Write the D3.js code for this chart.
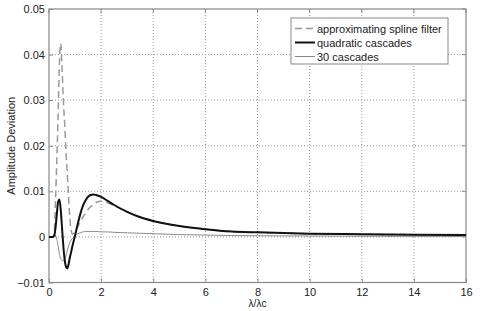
<!DOCTYPE html>
<html>
<head>
<meta charset="utf-8">
<script src="https://cdn.jsdelivr.net/npm/d3@7"></script>
<style>
body { margin: 0; background: #fff; }
text { font-family: Arial, "Liberation Sans", sans-serif; }
</style>
</head>
<body>
<div class="vis"></div>
<script>
// wavelength ratio samples (λ/λc)
const xs = [0, 0.1, 0.15, 0.2, 0.25, 0.3, 0.35, 0.4, 0.45, 0.5, 0.55, 0.6, 0.65, 0.7, 0.75, 0.8, 0.85, 0.9, 1.0,
    1.1, 1.2, 1.3, 1.4, 1.5, 1.6, 1.7, 1.8, 2.0, 2.25, 2.5, 3, 3.5, 4, 5, 6, 7, 8, 10, 12, 14, 16];

const splineFilter = [0, 0, 0, 0.001, 0.008, 0.017, 0.027, 0.038, 0.0425, 0.037, 0.030, 0.025, 0.019, 0.014, 0.009, 0.004, 0.0015, 0.0006, 0.0012,
    0.0022, 0.0033, 0.0043, 0.0052, 0.006, 0.0066, 0.0071, 0.0075, 0.0078, 0.0075, 0.0068, 0.0055, 0.0044, 0.0035, 0.0024, 0.0017, 0.0012, 0.001, 0.0007, 0.0006, 0.0005, 0.0004];

const quadratic = [0, 0, 0, 0.0002, 0.002, 0.005, 0.0077, 0.0082, 0.006, 0.002, -0.002, -0.005, -0.0065, -0.0069, -0.006, -0.0045, -0.0033, -0.002, 0.0003,
    0.0028, 0.005, 0.0068, 0.008, 0.0088, 0.0092, 0.0093, 0.0092, 0.0088, 0.0079, 0.007, 0.0055, 0.0043, 0.0035, 0.0024, 0.0017, 0.0012, 0.001, 0.0007, 0.0006, 0.0005, 0.0004];

const cascades30 = [0, 0, 0.0003, 0.0005, 0.0003, -0.0005, -0.002, -0.0038, -0.0048, -0.0051, -0.0052, -0.005, -0.0042, -0.003, -0.002, -0.0012, -0.0007, -0.0003, 0.0003,
    0.0007, 0.0009, 0.0011, 0.0012, 0.0012, 0.0012, 0.0012, 0.0012, 0.0011, 0.0011, 0.001, 0.0009, 0.0008, 0.0007, 0.0005, 0.0004, 0.0003, 0.00025, 0.0002, 0.00015, 0.00012, 0.0001];

const xTicks = [0, 2, 4, 6, 8, 10, 12, 14, 16];
const yTicks = [-0.01, 0, 0.01, 0.02, 0.03, 0.04, 0.05];
const legendLabels = ["approximating spline filter", "quadratic cascades", "30 cascades"];

const width = 480, height = 311;
const margin = { top: 9, right: 14, bottom: 28.5, left: 49 };
const w = width - margin.left - margin.right;
const h = height - margin.top - margin.bottom;

const svg = d3.select('.vis').append('svg')
    .attr('width', width).attr('height', height);
const g = svg.append('g')
    .attr('transform', 'translate(' + margin.left + ',' + margin.top + ')');

const x = d3.scaleLinear().domain([0, 16]).range([0, w]);
const y = d3.scaleLinear().domain([-0.01, 0.05]).range([h, 0]);

// grid
g.append('g').selectAll('line').data(xTicks.slice(1, -1)).join('line')
    .attr('x1', d => x(d)).attr('x2', d => x(d)).attr('y1', 0).attr('y2', h)
    .attr('stroke', '#999').attr('stroke-dasharray', '1,2');
g.append('g').selectAll('line').data(yTicks.slice(1, -1)).join('line')
    .attr('y1', d => y(d)).attr('y2', d => y(d)).attr('x1', 0).attr('x2', w)
    .attr('stroke', '#999').attr('stroke-dasharray', '1,2');

// axes (matlab style, ticks inside)
const xAxis = g.append('g').attr('transform', 'translate(0,' + h + ')')
    .call(d3.axisBottom(x).tickValues(xTicks).tickFormat(d3.format('d')).tickSizeInner(-4).tickSizeOuter(0).tickPadding(6));
const yAxis = g.append('g')
    .call(d3.axisLeft(y).tickValues(yTicks).tickFormat(d => d === 0 ? '0' : d3.format('.2f')(d)).tickSizeInner(-4).tickSizeOuter(0).tickPadding(4));
[xAxis, yAxis].forEach(a => {
    a.select('.domain').remove();
    a.selectAll('line').attr('stroke', '#888');
    a.selectAll('text').attr('fill', '#222').style('font-size', '11px');
});
// top / right ticks
g.append('g').selectAll('line').data(xTicks).join('line')
    .attr('x1', d => x(d)).attr('x2', d => x(d)).attr('y1', 0).attr('y2', 4).attr('stroke', '#888');
g.append('g').selectAll('line').data(yTicks).join('line')
    .attr('y1', d => y(d)).attr('y2', d => y(d)).attr('x1', w).attr('x2', w - 4).attr('stroke', '#888');

g.append('rect').attr('width', w).attr('height', h)
    .attr('fill', 'none').attr('stroke', '#888').attr('stroke-width', 1.2);

// curves
const line = vals => d3.line()
    .x((d, i) => x(xs[i]))
    .y(d => y(d))
    .curve(d3.curveMonotoneX)(vals);

g.append('path').attr('d', line(cascades30))
    .attr('fill', 'none').attr('stroke', '#8a8a8a').attr('stroke-width', 1);
g.append('path').attr('d', line(splineFilter))
    .attr('fill', 'none').attr('stroke', '#9a9a9a').attr('stroke-width', 1.5)
    .attr('stroke-dasharray', '7,4');
g.append('path').attr('d', line(quadratic))
    .attr('fill', 'none').attr('stroke', '#111').attr('stroke-width', 2);

// labels
svg.append('text')
    .attr('transform', 'translate(15,' + (margin.top + h / 2) + ') rotate(-90)')
    .attr('text-anchor', 'middle').attr('fill', '#222').style('font-size', '11px')
    .text('Amplitude Deviation');
svg.append('text')
    .attr('x', margin.left + w / 2).attr('y', 307)
    .attr('text-anchor', 'middle').attr('fill', '#222').style('font-size', '10px')
    .text('λ/λc');

// legend
const leg = svg.append('g').attr('transform', 'translate(291,18)');
leg.append('rect').attr('width', 157).attr('height', 46)
    .attr('fill', '#fff').attr('stroke', '#888');
const styles = [
    { stroke: '#9a9a9a', width: 1.5, dash: '7,4' },
    { stroke: '#111', width: 2, dash: null },
    { stroke: '#8a8a8a', width: 1, dash: null }
];
legendLabels.forEach((lab, i) => {
    const yy = 10.5 + i * 14;
    leg.append('line').attr('x1', 4).attr('x2', 24).attr('y1', yy).attr('y2', yy)
        .attr('stroke', styles[i].stroke).attr('stroke-width', styles[i].width)
        .attr('stroke-dasharray', styles[i].dash);
    leg.append('text').attr('x', 26).attr('y', yy + 4)
        .attr('fill', '#222').style('font-size', '11px').text(lab);
});
</script>
</body>
</html>
